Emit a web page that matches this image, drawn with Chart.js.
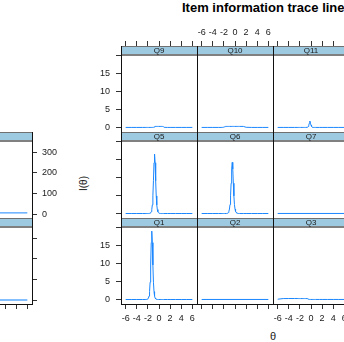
<!DOCTYPE html>
<html>
<head>
<meta charset="utf-8">
<script src="https://cdn.jsdelivr.net/npm/chart.js@4.4.1/dist/chart.umd.min.js"></script>
<style>
  html, body { margin:0; padding:0; background:#fff; }
  #wrap { position:relative; width:344px; height:342px; overflow:hidden; font-family:"Liberation Sans", Arial, sans-serif; }
  .cell { position:absolute; }
  .cell canvas { display:block; }
  .strip { position:absolute; width:76px; height:9px; line-height:9px; font-size:8px; color:#1a1a1a; text-align:center; }
  .title { position:absolute; left:182px; top:0; font-size:13px; font-weight:bold; line-height:15px; color:#000; white-space:nowrap; }
  .xlab { position:absolute; left:258px; top:330px; width:30px; text-align:center; font-size:11px; line-height:13px; color:#222; }
  .ylab { position:absolute; left:63px; top:177px; width:40px; text-align:center; font-size:10px; line-height:13px; color:#222; transform:rotate(-90deg); }
</style>
</head>
<body>
<div id="wrap">
  <div class="title">Item information trace lines</div>
  <div class="xlab">θ</div>
  <div class="ylab">I(θ)</div>
</div>
<script>
// θ grid: coarse in the tails, 0.1 steps where the peaks sit
const theta = [-6,-5,-4,-3,-2.5,
  -2.2,-2.1,-2,-1.9,-1.8,-1.7,-1.6,-1.5,-1.4,-1.3,-1.2,-1.1,-1,-0.9,-0.8,-0.7,-0.6,-0.5,-0.4,-0.3,-0.2,-0.1,
  0,0.1,0.2,0.3,0.4,0.5,0.6,0.7,0.8,0.9,1,
  1.5,2,3,4,5,6];
const thetaEnds = [-6, 6];

// item information I(θ)
const infoQ9  = [0.02,0.02,0.02,0.02,0.02, 0.02,0.02,0.02,0.02,0.02,0.02,0.02,0.02,0.02,0.02,0.02,0.02,
  0.04,0.1,0.22, 0.3,0.3,0.3,0.3,0.3,0.3,0.3,0.3,0.3,0.3,0.3,0.3,0.3,0.3,0.3, 0.22,0.1,0.04,
  0.02,0.02,0.02,0.02,0.02,0.02];
const infoQ10 = [0.02,0.02,0.02,0.02,0.02, 0.04,0.07,0.12,0.18,0.24,
  0.3,0.3,0.3,0.3,0.3,0.3,0.3,0.3,0.3,0.3,0.3,0.3,0.3,0.3,0.3,0.3,0.3,0.3,0.3,0.3,0.3,0.3,0.3,0.3,0.3,0.3,0.3,0.3,0.3,
  0.06,0.02,0.02,0.02,0.02];
const infoQ11 = [0.02,0.02,0.02,0.02,0.02, 0.02,0.02,0.02,0.02,0.02,0.02,0.02,0.02,0.02,0.02,0.02,0.02,0.02,0.02,0.02,
  0.05,0.12,0.3,0.65,1.2,1.8,1.2,0.65,0.3,0.12,0.05,
  0.02,0.02,0.02,0.02,0.02,0.02,0.02, 0.02,0.02,0.02,0.02,0.02,0.02];
const infoQ5  = [0,0,0,0,0, 0,0,0,0,
  0.02,0.05,0.1,0.23,0.5,1.1,2.4,4.9,9.1,14.1,16.5,14.1,9.1,4.9,2.4,1.1,0.5,0.23,0.1,0.05,0.02,
  0,0,0,0,0,0,0,0, 0,0,0,0,0,0];
const infoQ6  = [0,0,0,0,0, 0,0,0,0,0,0,0,
  0.03,0.06,0.14,0.29,0.6,1.24,2.5,4.9,8.4,12.4,14.2,12.4,8.4,4.9,2.5,1.24,0.6,0.29,0.14,0.06,0.03,
  0,0,0,0,0, 0,0,0,0,0,0];
const infoQ7  = [0.01, 0.01];
const infoQ1  = [0,0,0,0,0,
  0.03,0.07,0.17,0.41,0.95,2.2,4.8,9.6,15.8,19.0,15.8,9.6,4.8,2.2,0.95,0.41,0.17,0.07,0.03,0.01,
  0,0,0,0,0,0,0,0,0,0,0,0,0, 0,0,0,0,0,0];
const infoQ2  = [0.01, 0.01];
const infoQ3  = [0.08,0.26,0.27,0.27,0.27,
  0.26,0.26,0.26,0.26,0.26,0.26,0.26,0.26,0.26,0.26,0.26,0.26,0.26,0.26,0.26,0.26,
  0.2,0.12,0.06,0.03,
  0.01,0.01,0.01,0.01,0.01,0.01,0.01,0.01,0.01,0.01,0.01,0.01,0.01, 0.01,0.01,0.01,0.01,0.01,0.01];

// neighbouring plot on the left (test-level scale)
const infoLeftTop    = [6.3, 6.3];
const infoLeftBottom = [0.5, 0.5];

const xTicks     = [-6,-4,-2,0,2,4,6];
const yTicksItem = [0,5,10,15,20];
const yLabelItem = [0,5,10,15];      // the 20 tick sits on the strip edge, left unlabeled
const yTicksTest = [0,100,200,300];

// ── layout ─────────────────────────────────────────
const COL_W = 76, ROW_H = 86, STRIP_H = 9, PAD = 30;
const COLS = [121, 197, 273];
const ROWS = [46, 132, 218];
const X_RANGE = [-6.84, 6.84];
const Y_ITEM  = [-1.25, 22.64];
const Y_TEST  = [-18.4, 397.6];
const LINE = '#1a86ff';

Chart.defaults.font.family = '"Liberation Sans", Arial, sans-serif';
Chart.defaults.font.size = 9;
Chart.defaults.color = '#222';

// strip on top of each panel plus lattice-style borders
const frame = {
  id: 'frame',
  beforeDatasetsDraw(chart) {
    const {left, right, top} = chart.chartArea, ctx = chart.ctx;
    ctx.save();
    ctx.fillStyle = '#9ecae1';
    ctx.fillRect(left, top, right - left + 1, STRIP_H);
    ctx.restore();
  },
  afterDatasetsDraw(chart) {
    const {left, right, top, bottom} = chart.chartArea, ctx = chart.ctx;
    const w = right - left + 1;
    ctx.save();
    ctx.fillStyle = '#707070';
    ctx.fillRect(left, top, w, 1);
    ctx.fillStyle = '#808080';
    ctx.fillRect(left, top + STRIP_H - 1, w, 2);
    ctx.strokeStyle = '#111';
    ctx.lineWidth = 1;
    ctx.beginPath();
    ctx.moveTo(left + 0.5, top); ctx.lineTo(left + 0.5, bottom + 1);
    ctx.moveTo(right + 0.5, top); ctx.lineTo(right + 0.5, bottom + 1);
    ctx.moveTo(left, bottom + 0.5); ctx.lineTo(right + 1, bottom + 0.5);
    ctx.stroke();
    ctx.restore();
  }
};

const wrap = document.getElementById('wrap');

function axis(pos, range, ticks, showTicks, showLabels, pad, labelled) {
  const horiz = pos === 'top' || pos === 'bottom';
  return {
    type: 'linear', position: pos, min: range[0], max: range[1],
    afterBuildTicks: s => { s.ticks = ticks.map(v => ({value: v})); },
    afterFit: s => { if (horiz) s.height = PAD; else s.width = PAD; },
    grid: { display: true, drawOnChartArea: false, drawTicks: showTicks, tickLength: 5, tickColor: '#333', tickWidth: 1 },
    border: { display: false },
    ticks: {
      display: showLabels, padding: pad, autoSkip: false, maxRotation: 0, color: '#1a1a1a', font: {size: 9},
      callback: v => (!labelled || labelled.includes(v)) ? String(v) : ''
    }
  };
}

function panel(o) {
  const div = document.createElement('div');
  div.className = 'cell';
  div.style.left = (o.x - PAD) + 'px';
  div.style.top = (o.y - PAD) + 'px';
  const cv = document.createElement('canvas');
  cv.width = COL_W + 2 * PAD;
  cv.height = ROW_H + 2 * PAD;
  div.appendChild(cv);
  wrap.appendChild(div);

  const yr = o.yRange || Y_ITEM, yt = o.yTicks || yTicksItem, yl = o.yLabels || yLabelItem;
  new Chart(cv, {
    type: 'line',
    data: {
      datasets: o.series.map(s => ({
        data: s.x.map((t, i) => ({x: t, y: s.y[i]})),
        borderColor: s.color || LINE, borderWidth: s.w || 1,
        pointRadius: 0, tension: 0, fill: false,
        xAxisID: 'x', yAxisID: 'y'
      }))
    },
    options: {
      responsive: false, animation: false, devicePixelRatio: 1, events: [],
      layout: { padding: 0 },
      plugins: { legend: {display: false}, tooltip: {enabled: false} },
      scales: {
        x:  axis('bottom', X_RANGE, xTicks, !!o.bottom, o.bottom === 'label', 4),
        xt: axis('top',    X_RANGE, xTicks, !!o.top,    o.top === 'label', 3),
        y:  axis('left',  yr, yt, !!o.left,  o.left === 'label', 6, yl),
        yr: axis('right', yr, yt, !!o.right, o.right === 'label', 5, yl)
      }
    },
    plugins: [frame]
  });
}

const S = (x, y, extra) => Object.assign({x, y}, extra || {});

// item panels, three visible columns
const items = [
  [['Q9',  S(theta, infoQ9)],  ['Q10', S(theta, infoQ10)], ['Q11', S(theta, infoQ11)]],
  [['Q5',  S(theta, infoQ5)],  ['Q6',  S(theta, infoQ6)],  ['Q7',  S(thetaEnds, infoQ7)]],
  [['Q1',  S(theta, infoQ1)],  ['Q2',  S(thetaEnds, infoQ2)], ['Q3', S(theta, infoQ3)]]
];

// left neighbour: two rows on the 0–300 scale
panel({ x: -44, y: ROWS[1], series: [S(thetaEnds, infoLeftTop)],
        yRange: Y_TEST, yTicks: yTicksTest, yLabels: yTicksTest, right: 'label' });
panel({ x: -44, y: ROWS[2], series: [S(thetaEnds, infoLeftBottom, {w: 1.5, color: '#5aaaff'})],
        yRange: Y_TEST, yTicks: yTicksTest, yLabels: yTicksTest, right: 'tick', bottom: 'tick' });

items.forEach((row, r) => row.forEach(([name, s], c) => {
  panel({
    x: COLS[c], y: ROWS[r], series: [s],
    left:   c === 0 ? (r === 1 ? 'tick' : 'label') : null,
    top:    r === 0 ? (c === 1 ? 'label' : 'tick') : null,
    bottom: r === 2 ? (c === 1 ? 'tick' : 'label') : null
  });
}));

// strip labels go above the canvases
items.forEach((row, r) => row.forEach(([name], c) => {
  const d = document.createElement('div');
  d.className = 'strip';
  d.style.left = COLS[c] + 'px';
  d.style.top = ROWS[r] + 'px';
  d.textContent = name;
  wrap.appendChild(d);
}));
</script>
</body>
</html>
